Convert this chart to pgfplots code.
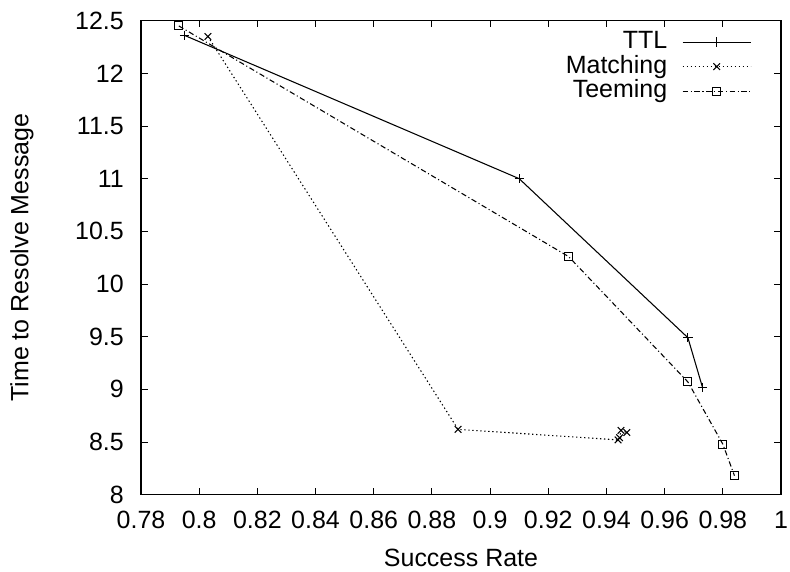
\documentclass[border=0pt]{standalone}
\usepackage{fontspec}
\setmainfont{Liberation Sans}
\usepackage{pgfplots}
\pgfplotsset{compat=1.18}
\newcommand{\cf}{\fontsize{18.8}{22}\selectfont}
\begin{document}
\begin{tikzpicture}
\begin{axis}[
  name=ax,
  scale only axis,
  width=480bp, height=355.5bp,
  xmin=0.78, xmax=1, ymin=8, ymax=12.5,
  xtick={0.78,0.8,0.82,0.84,0.86,0.88,0.9,0.92,0.94,0.96,0.98,1},
  ytick={8,8.5,9,9.5,10,10.5,11,11.5,12,12.5},
  /pgf/number format/assume math mode=true,
  /pgf/number format/fixed,
  tick align=inside,
  major tick length=5bp,
  every tick/.style={black, line width=0.75bp},
  axis line style={line width=1.2bp},
  xticklabel style={font=\cf, anchor=north, inner sep=0pt, yshift=-12bp},
  yticklabel style={font=\cf, anchor=east, inner sep=0pt, xshift=-12.75bp},
  xlabel={Success Rate},
  ylabel={Time to Resolve Message},
  xlabel style={font=\cf, inner sep=0pt, at={(axis description cs:0.5,-0.1519)}, anchor=base},
  ylabel style={font=\cf, inner sep=0pt, at={(axis description cs:-0.186,0.5)}, anchor=center, rotate=0},
  clip=false,
  legend plot pos=right,
  legend cell align=right,
  legend style={at={(axis description cs:0.9539,0.9812)}, anchor=north east,
    draw=none, fill=none, font=\cf, inner sep=0pt, column sep=11.25bp, row sep=0pt,
    nodes={inner sep=0pt, text height=14bp, text depth=4.4bp}},
  legend image code/.code={\draw[mark repeat=2,mark phase=2] plot coordinates {(0bp,0bp) (25.5bp,0bp) (51bp,0bp)};},
]
\addplot[black, line width=0.8bp, mark=+, mark size=3.5bp, mark options={solid}] coordinates {
(0.795,12.36) (0.910,11.00) (0.968,9.49) (0.973,9.02)
};
\addlegendentry{TTL}
\addplot[black, line width=0.8bp, dash pattern=on 1bp off 2bp, mark=x, mark size=3.5bp, mark options={solid}] coordinates {
(0.803,12.35) (0.889,8.62) (0.944,8.52) (0.9445,8.54) (0.945,8.61) (0.947,8.59)
};
\addlegendentry{Matching}
\addplot[black, line width=0.8bp, dash pattern=on 4bp off 2bp on 0.8bp off 2bp, mark=square, mark size=3bp, mark options={solid}] coordinates {
(0.793,12.45) (0.927,10.26) (0.968,9.07) (0.980,8.48) (0.984,8.18)
};
\addlegendentry{Teeming}
\end{axis}
\path ([xshift=-105.75bp,yshift=-58bp]ax.south west) rectangle ([xshift=6.75bp,yshift=15.5bp]ax.north east);
\end{tikzpicture}
\end{document}
